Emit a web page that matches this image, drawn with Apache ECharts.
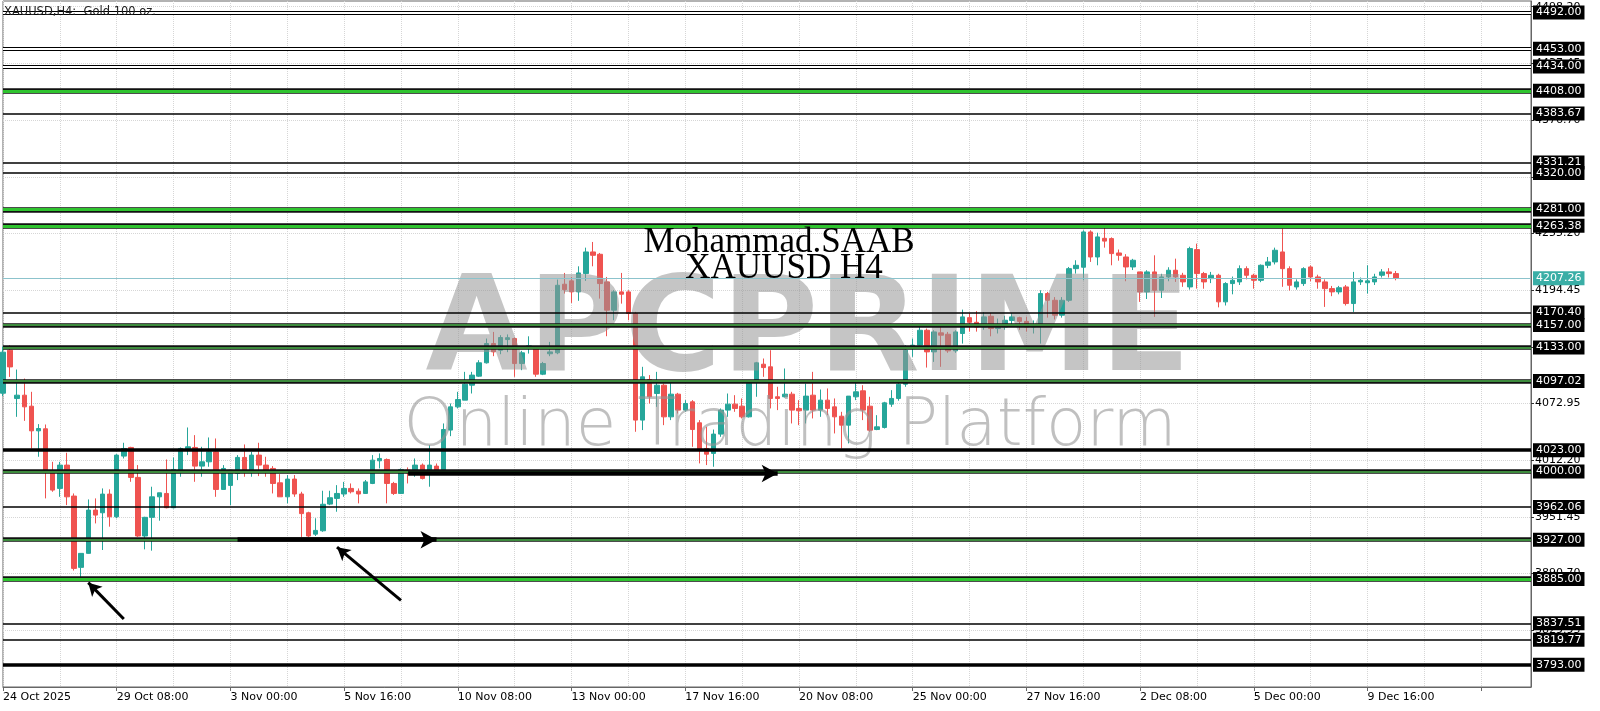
<!DOCTYPE html>
<html>
<head>
<meta charset="utf-8">
<script src="https://cdn.jsdelivr.net/npm/echarts@6/dist/echarts.min.js"></script>
<style>
  html, body { margin: 0; padding: 0; background: #fff; }
  #chart { width: 1600px; height: 711px; }
</style>
</head>
<body>
<div id="chart"></div>
<script>
// XAUUSD H4 candles, first bar = 24 Oct 16:00
var openVals = [4084,4130.1,4078.3,4081.9,4070.1,4043.7,4045.9,3999.8,3982,4007,
  3973.8,3897.4,3912.4,3958.8,3955.9,3975.9,3951.6,4016.6,4025.9,3993.8,
  3931,3951,3973,3976.6,3961.3,4001.6,4024.5,4025.9,4005.9,4010.5,
  4021.2,3980.9,3985.2,3998,4015.2,4001.6,4017.7,4007,4003.4,3988,
  3973,3992,3976,3955.9,3933,3936.6,3965.2,3971.3,3976,3982,
  3979,3976.6,3987.3,4011.6,4013,3987.3,3976.6,4001.6,3998,4007,
  4000,4005.9,4001.6,4044.5,4069.4,4076.6,4092.6,4102.3,4116.6,4137.3,
  4130.1,4141.5,4142.6,4115.8,4133.5,4131.9,4104.4,4126.3,4127.3,4200.8,
  4204.4,4192.6,4212.2,4235.4,4232.9,4203.3,4173,4192.6,4192.6,4169.4,
  4055.2,4098.7,4083.7,4092.6,4058.7,4083,4065.9,4074.8,4052.3,4024.8,
  4019.5,4040.2,4065.9,4072.3,4070.1,4058.7,4096.2,4115.1,4112.3,4080.2,
  4080.2,4083,4067.7,4065.9,4081.9,4065.9,4076.6,4069.4,4059.4,4049.8,
  4080.2,4086.6,4070.1,4045.1,4047.3,4072.3,4078.4,4093.7,4131.9,4135.5,
  4151.5,4128.3,4148.7,4147.2,4129.4,4148,4165,4160,4155,4166.5,
  4153.3,4155,4162,4165,4161,4155,4157,4190.8,4183.6,4167.6,
  4183.6,4217.5,4219,4256.8,4230,4250,4249.7,4234.3,4230,4219.3,
  4214,4192.6,4214,4194.3,4208.6,4215.8,4210.4,4197.9,4237.9,4212.2,
  4206.8,4210.4,4181.9,4201.5,4203.3,4217.5,4210.4,4205,4221.1,4224.7,
  4235.4,4217.5,4197.9,4201.5,4219.3,4208.6,4203.3,4196.1,4192.6,4197.9,
  4180.1,4203.3,4202.4,4203.3,4210.4,4214,4212.2];
var closeVals = [4128,4112.2,4081.9,4069.4,4043.7,4046.2,3999.8,3980.2,4007,3973,
  3896.3,3912.4,3958.8,3953.4,3975.9,3951.6,4017.7,4024.8,3993.8,3931,
  3951,3973,3977.3,3961.3,4002.3,4024.8,4026.6,4005.9,4010.5,4021.2,
  3980.9,4003.4,4001.6,4015.2,4001.6,4017.7,4007,4001.6,3987.3,3973,
  3992,3976,3955,3931,3937,3965,3972,3976.6,3982,3978.4,
  3976,3989,4012.3,4014.1,3987.3,3976.6,4002.3,3998.7,4007,3992.7,
  4007,4001.6,4045.1,4069.4,4077.3,4093.7,4103.4,4116.6,4137.3,4128.3,
  4143.7,4143.5,4115.8,4127.3,4134.8,4104.4,4115.8,4128.3,4199.7,4195,
  4192.6,4212.9,4235.4,4231.8,4201.5,4173,4192.6,4190.1,4169.4,4055.2,
  4101.6,4080.2,4092.6,4058.7,4083,4065.9,4073,4045.1,4023,4018.7,
  4040.2,4065.9,4072.3,4067.7,4058.7,4096.2,4116.6,4111.5,4078.4,4078.4,
  4083,4065.9,4065.2,4080.9,4065.9,4076.6,4067.7,4058.7,4049.8,4080.9,
  4085.5,4065.9,4044.4,4048,4073.7,4078.4,4093.7,4130.1,4135.5,4151.5,
  4128.3,4149.7,4146.2,4129.4,4149.7,4165.8,4160,4155,4165.8,4153.3,
  4157,4162.2,4165.8,4161,4155,4157,4190.8,4183.6,4167.6,4183.6,
  4217.5,4221.1,4256.8,4230,4251.5,4247,4233.6,4231.8,4219.3,4226.5,
  4192.6,4214,4194.3,4208.6,4215.8,4208.6,4203.3,4239,4212.2,4203.3,
  4210.4,4181.9,4201.5,4205,4217.5,4210.4,4205,4221.1,4224.7,4237.2,
  4217.5,4199.7,4203.3,4217.5,4208.6,4203.3,4196.1,4192.6,4197,4180.1,
  4203.3,4205,4204.4,4208.6,4214,4212.2,4207.26];
var highVals = [4134,4135.5,4109.4,4099.7,4085.5,4050.9,4050.5,4010.5,4010.5,4020.2,
  3976.6,3912.4,3970.2,3971.3,3982,3981,4018.7,4030.9,4026.6,4007,
  3951.6,3983.8,3977.3,4013,4015.2,4025.9,4047.3,4039.1,4026.6,4036.6,
  4035.5,4007,4001.6,4017.7,4029.1,4021.2,4030.9,4015.9,4005.9,3997.3,
  3996.3,3996.3,3978.4,3957,3950,3979.5,3979.5,3985.5,3989,3987.3,
  3982,3991,4017.7,4019.5,4014.1,3989,4003.4,4004.5,4014.1,4008.7,
  4028.4,4008.7,4051.6,4073,4085.5,4106.9,4106.9,4119.4,4142.6,4149.7,
  4146.2,4147,4143.7,4129.4,4145,4134.4,4117.6,4139,4205.8,4212.9,
  4208.6,4220,4240,4246.1,4234.3,4208.6,4194.4,4212.9,4194.4,4171.2,
  4112.3,4103.4,4106.9,4094.4,4096.2,4084.4,4076.6,4076.6,4055.2,4048,
  4045.1,4067.7,4083.7,4081.9,4078.4,4098,4117.6,4121.2,4130.1,4090.9,
  4110.5,4085.5,4076.6,4094.4,4106.9,4088,4089.1,4078.4,4064.1,4080.9,
  4096.2,4092.6,4080.2,4060.5,4074.8,4087.3,4096.2,4135.5,4142.6,4156.9,
  4153.3,4151.5,4156.9,4149.7,4151.5,4173.6,4170,4172,4171,4170,
  4164,4167,4170,4166,4166,4162,4194.3,4192.6,4187,4187,
  4219.3,4226.5,4258.6,4258.6,4256,4263,4251,4238,4233,4228,
  4214,4215.8,4231.8,4212,4219,4228.2,4213,4241,4244.3,4214,
  4214,4212,4203,4209,4221,4220,4212,4222,4230,4240,
  4260.4,4220,4206,4219,4221,4211,4206,4199,4199,4200,
  4214,4208,4221.1,4212,4217,4218,4215];
var lowVals = [4081,4101.5,4058.7,4054.4,4024.8,4015.9,3971.3,3978.4,3973,3964.1,
  3894,3885.6,3912,3944.5,3916,3941,3950,4014.1,3989.1,3930,
  3916.7,3915.3,3947.4,3960.6,3960.6,3994.5,4017.7,3989.1,3994.5,4005.2,
  3973,3980.9,3964.1,3990.9,3994.5,3994.5,3995.2,3994.5,3976.6,3973,
  3966,3973,3930,3930,3931,3935.5,3964.1,3957,3973,3976.6,
  3966,3976,3986.6,4003.4,3966,3975,3976,3987.3,3994.5,3991.6,
  3983.8,4000,4000.9,4038,4067.7,4076.6,4083.7,4101.6,4115.8,4123.7,
  4125.8,4128,4101.6,4108.7,4126.5,4101.6,4103.4,4123.7,4125.8,4190.8,
  4180.8,4183,4204.4,4220,4185.4,4145.1,4162.2,4180,4162.2,4042.7,
  4044.5,4073,4069.4,4049.8,4055.2,4062.3,4064.1,4026.6,4008.8,4007,
  4005.2,4037.3,4058.7,4064.1,4057,4058,4080.2,4101.6,4067.7,4065.9,
  4079.4,4051.6,4049.8,4051.6,4057,4058.7,4060.5,4040.9,4024.8,4030.2,
  4076.6,4055.2,4042.7,4044.4,4046.2,4069.4,4076,4090.9,4123,4134.4,
  4111.5,4117.6,4112.3,4127.3,4127.3,4137.2,4150,4150,4152,4145,
  4148,4152,4155,4152,4150,4148,4137.2,4165,4163,4165,
  4181.9,4212.2,4205,4224.7,4221.1,4240,4221.1,4226,4204,4216,
  4181.9,4185,4165.8,4186,4204,4203.3,4198,4195,4196.1,4196,
  4202,4176,4178,4190,4200,4206,4196,4203,4218,4222,
  4198,4194,4195,4199,4204,4196,4176.5,4188,4190,4178,
  4171.1,4200,4190.8,4200,4208,4208,4205];

var barCount = 216; // bar slots across the plot (data + empty right shift)
var xTickLabels = ['24 Oct 2025', '29 Oct 08:00', '3 Nov 00:00', '5 Nov 16:00', '10 Nov 08:00',
  '13 Nov 00:00', '17 Nov 16:00', '20 Nov 08:00', '25 Nov 00:00', '27 Nov 16:00',
  '2 Dec 08:00', '5 Dec 00:00', '9 Dec 16:00'];
var yTickValues = [3829.95, 3890.70, 3951.45, 4012.20, 4072.95, 4133.70, 4194.45,
  4255.20, 4315.95, 4376.70, 4437.45, 4498.20];
var yMin = 3769.2, yMax = 4504.3;

// horizontal levels
var levelsDouble = [4492, 4453, 4434];
var levelsSingle = [4383.67, 4331.21, 4320, 4170.40, 3962.06, 3837.51, 3819.77];
var levelsThick = [4023, 3793];
var levelsGreenBright = [4408, 4281, 4263.38, 3885];
var levelsGreenDark = [4157, 4133, 4097.02, 4000, 3927];
var lastPrice = 4207.26;

// arrows: [from [bar, price], to [bar, price]]
var arrowsFlat = [[[57, 3998], [109, 3998]], [[33, 3927], [61, 3927]]];
var arrowsDiag = [[[17, 3842], [12, 3881]], [[56, 3862], [47, 3919]]];

var cats = [];
for (var i = 0; i < barCount; i++) cats.push(String(i));
var candles = openVals.map(function (o, k) {
  return [o, closeVals[k], lowVals[k], highVals[k]];
});

var UP = '#26a69a', DOWN = '#ef5350';
var FONT = 'DejaVu Sans';

function boxLabel(bg) {
  return {
    show: true, position: 'end', distance: 2,
    formatter: function (p) { return Number(p.value).toFixed(2); },
    backgroundColor: bg || '#000', color: '#fff',
    fontSize: 11, fontFamily: FONT, padding: [2, 3, 1, 3]
  };
}
var noLabel = { show: false };
function ls(color, width) { return { color: color, width: width, type: 'solid' }; }

var levelLines = [];
levelsDouble.forEach(function (p) {
  levelLines.push({ yAxis: p, lineStyle: ls('#000', 4), label: boxLabel() });
  levelLines.push({ yAxis: p, lineStyle: ls('#fff', 2), label: noLabel });
});
levelsSingle.forEach(function (p) {
  levelLines.push({ yAxis: p, lineStyle: ls('#000', 1.5), label: boxLabel() });
});
levelsThick.forEach(function (p) {
  levelLines.push({ yAxis: p, lineStyle: ls('#000', 3.5), label: boxLabel() });
});
levelsGreenDark.forEach(function (p) {
  levelLines.push({ yAxis: p, lineStyle: ls('#111', 4.5), label: boxLabel() });
  levelLines.push({ yAxis: p, lineStyle: ls('#3d8b3d', 2), label: noLabel });
});
levelsGreenBright.forEach(function (p) {
  levelLines.push({ yAxis: p, lineStyle: ls('#111', 5.5), label: boxLabel() });
  levelLines.push({ yAxis: p, lineStyle: ls('#2fc42f', 3), label: noLabel });
});
levelLines.push({ yAxis: lastPrice, lineStyle: ls('#8cc3cc', 1), label: boxLabel('#3aaea6') });

var arrowLines = [];
arrowsFlat.forEach(function (a) {
  arrowLines.push([
    { coord: a[0], symbol: 'none', lineStyle: ls('#000', 4.5) },
    { coord: a[1], symbol: 'arrow', symbolSize: [13, 16] }
  ]);
});
arrowsDiag.forEach(function (a) {
  arrowLines.push([
    { coord: a[0], symbol: 'none', lineStyle: ls('#000', 3) },
    { coord: a[1], symbol: 'arrow', symbolSize: [11, 13] }
  ]);
});

var chart = echarts.init(document.getElementById('chart'));
var option = {
  animation: false,
  backgroundColor: '#fff',
  grid: { left: 2, right: 69, top: 1, bottom: 24, show: true, borderColor: '#666', borderWidth: 1 },
  xAxis: {
    type: 'category', data: cats, boundaryGap: false,
    axisLine: { lineStyle: { color: '#666' } },
    axisTick: { show: true, interval: 15, length: 4, lineStyle: { color: '#666' } },
    axisLabel: {
      interval: 15, align: 'left', margin: 5, color: '#000', fontSize: 11, fontFamily: FONT,
      formatter: function (v, idx) { return xTickLabels[idx / 16] || ''; }
    },
    splitLine: { show: true, interval: 7, lineStyle: { type: 'dotted', color: '#d6d6d6' } }
  },
  yAxis: {
    type: 'value', position: 'right', min: yMin, max: yMax,
    axisLine: { show: true, lineStyle: { color: '#666' } },
    axisTick: { show: true, length: 3, customValues: yTickValues, lineStyle: { color: '#333' } },
    axisLabel: {
      customValues: yTickValues, margin: 4, color: '#000', fontSize: 11, fontFamily: FONT,
      formatter: function (v) { return Number(v).toFixed(2); }
    },
    splitLine: { show: true, lineStyle: { type: 'dotted', color: '#d6d6d6' } }
  },
  graphic: {
    elements: [
      { type: 'text', x: 808, y: 336, z: 3, silent: true,
        style: { text: 'APCPRIME', font: 'bold 132px "DejaVu Sans"', fill: 'rgba(150,150,150,0.55)',
          align: 'center', verticalAlign: 'middle', textAlign: 'center', textVerticalAlign: 'middle' } },
      { type: 'text', x: 790, y: 428, z: 3, silent: true,
        style: { text: 'Online Trading Platform', font: '200 66px "DejaVu Sans"', fill: 'rgba(150,150,150,0.6)',
          align: 'center', verticalAlign: 'middle', textAlign: 'center', textVerticalAlign: 'middle' } },
      { type: 'text', x: 779, y: 260, z: 10, silent: true,
        style: { text: 'Mohammad.SAAB', font: '35px "Liberation Serif"', fill: '#000',
          align: 'center', verticalAlign: 'bottom', textAlign: 'center', textVerticalAlign: 'bottom' } },
      { type: 'text', x: 784, y: 286, z: 10, silent: true,
        style: { text: 'XAUUSD H4', font: '35px "Liberation Serif"', fill: '#000',
          align: 'center', verticalAlign: 'bottom', textAlign: 'center', textVerticalAlign: 'bottom' } },
      { type: 'text', x: 4, y: 12, z: 10, silent: true,
        style: { text: 'XAUUSD,H4:  Gold 100 oz.', font: '11.5px "DejaVu Sans"', fill: '#222',
          align: 'left', verticalAlign: 'middle', textAlign: 'left', textVerticalAlign: 'middle' } }
    ]
  },
  series: [
    {
      type: 'candlestick', data: candles, barWidth: 5, clip: true, z: 2,
      itemStyle: { color: UP, color0: DOWN, borderColor: UP, borderColor0: DOWN, borderColorDoji: UP, borderWidth: 1 }
    },
    {
      type: 'line', data: [], silent: true,
      markLine: { silent: true, symbol: 'none', animation: false, z: 5,
        lineStyle: { type: 'solid' }, data: levelLines }
    },
    {
      type: 'line', data: [], silent: true,
      markLine: { silent: true, animation: false, z: 6, label: { show: false },
        lineStyle: { type: 'solid' }, data: arrowLines }
    }
  ]
};
chart.setOption(option);
</script>
</body>
</html>
